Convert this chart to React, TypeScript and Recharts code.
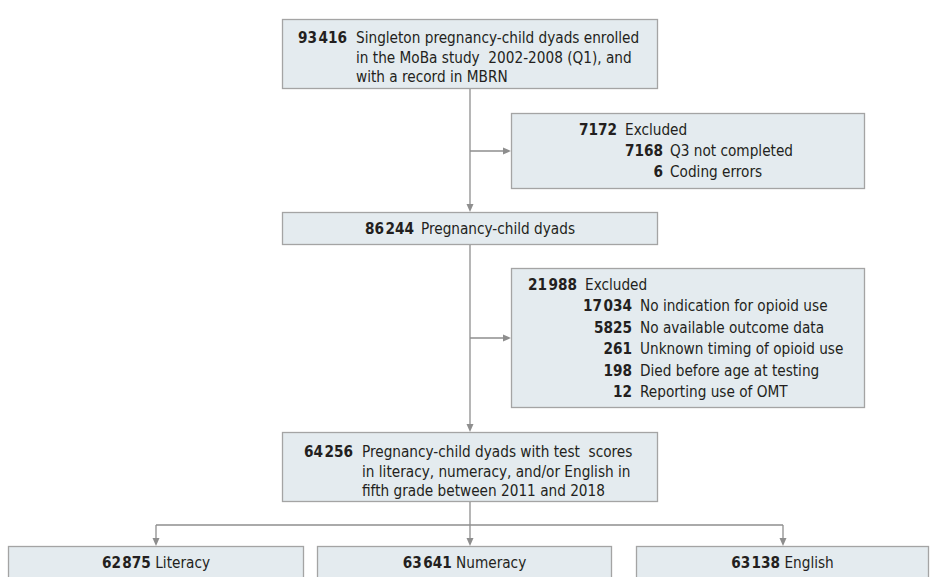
import React from 'react';
import { ComposedChart, XAxis, YAxis, ReferenceArea, ReferenceLine } from 'recharts';

const W = 935;
const H = 577;
const FONT = '"DejaVu Sans Condensed", "Liberation Sans Narrow", "Open Sans", sans-serif';
const BOX_FILL = '#e4ebef';
const BOX_STROKE = '#a4a4a4';
const LINE = '#8e8e8e';
const INK = '#231f20';

// flow steps
const STEP_COUNTS = [93416, 86244, 64256];
const STEP_TEXT = [
  ['Singleton pregnancy-child dyads enrolled', 'in the MoBa study  2002-2008 (Q1), and', 'with a record in MBRN'],
  ['Pregnancy-child dyads'],
  ['Pregnancy-child dyads with test  scores', 'in literacy, numeracy, and/or English in', 'fifth grade between 2011 and 2018'],
];

// exclusions
const EXCLUDED_TOTALS = [7172, 21988];
const EXCLUDED_COUNTS = [
  [7168, 6],
  [17034, 5825, 261, 198, 12],
];
const EXCLUDED_REASONS = [
  ['Q3 not completed', 'Coding errors'],
  ['No indication for opioid use', 'No available outcome data', 'Unknown timing of opioid use', 'Died before age at testing', 'Reporting use of OMT'],
];

// outcomes
const OUTCOMES = ['Literacy', 'Numeracy', 'English'];
const OUTCOME_COUNTS = [62875, 63641, 63138];

// layout (chart units == pixels)
const STEP_BOXES = [
  { x1: 282, x2: 658, y1: 19, y2: 89, numRight: 65, textLeft: 74, base: 24, gap: 19.5 },
  { x1: 282, x2: 658, y1: 212, y2: 245, numRight: 132, textLeft: 139, base: 22, gap: 19.5 },
  { x1: 282, x2: 658, y1: 432, y2: 502, numRight: 71, textLeft: 80, base: 25, gap: 19.5 },
];
const EXCL_BOXES = [
  { x1: 511, x2: 865, y1: 113, y2: 189, totRight: 106, totLeft: 114, subRight: 152, subLeft: 159, base: 22, gap: 21 },
  { x1: 511, x2: 865, y1: 268, y2: 408, totRight: 66, totLeft: 74, subRight: 121, subLeft: 129, base: 22, gap: 21.4 },
];
const OUTCOME_BOXES = [
  { x1: 8, x2: 304 },
  { x1: 317, x2: 612 },
  { x1: 636, x2: 929 },
];
const OUTCOME_TOP = 546;
const CONNECTORS = [
  { from: [470, 89], to: [470, 212], arrow: true },
  { from: [470, 151], to: [511, 151], arrow: true },
  { from: [470, 245], to: [470, 432], arrow: true },
  { from: [470, 338], to: [511, 338], arrow: true },
  { from: [470, 502], to: [470, OUTCOME_TOP], arrow: true },
  { from: [156, 525], to: [783, 525], arrow: false },
  { from: [156, 525], to: [156, OUTCOME_TOP], arrow: true },
  { from: [783, 525], to: [783, OUTCOME_TOP], arrow: true },
];

const fmt = (n: number) => {
  const s = String(n);
  return n >= 10000 ? `${s.slice(0, s.length - 3)}\u200a${s.slice(-3)}` : s;
};

const textStyle = { fontFamily: FONT, fontSize: 15.2, fill: INK };

const Box = ({ x, y, width, height, children }: any) => (
  <g>
    <rect x={x + 0.5} y={y + 0.5} width={width - 1} height={height - 1} fill={BOX_FILL} stroke={BOX_STROKE} strokeWidth={1.3} />
    {children}
  </g>
);

const stepShape = (i: number) => (p: any) => {
  const b = STEP_BOXES[i];
  return (
    <Box {...p}>
      <text x={p.x + b.numRight} y={p.y + b.base} textAnchor="end" fontWeight="bold" style={textStyle}>
        {fmt(STEP_COUNTS[i])}
      </text>
      {STEP_TEXT[i].map((line, k) => (
        <text key={k} x={p.x + b.textLeft} y={p.y + b.base + k * b.gap} style={{ ...textStyle, whiteSpace: 'pre' }}>
          {line}
        </text>
      ))}
    </Box>
  );
};

const exclShape = (i: number) => (p: any) => {
  const b = EXCL_BOXES[i];
  return (
    <Box {...p}>
      <text x={p.x + b.totRight} y={p.y + b.base} textAnchor="end" fontWeight="bold" style={textStyle}>
        {fmt(EXCLUDED_TOTALS[i])}
      </text>
      <text x={p.x + b.totLeft} y={p.y + b.base} style={textStyle}>Excluded</text>
      {EXCLUDED_COUNTS[i].map((c, k) => (
        <g key={k}>
          <text x={p.x + b.subRight} y={p.y + b.base + (k + 1) * b.gap} textAnchor="end" fontWeight="bold" style={textStyle}>
            {fmt(c)}
          </text>
          <text x={p.x + b.subLeft} y={p.y + b.base + (k + 1) * b.gap} style={textStyle}>
            {EXCLUDED_REASONS[i][k]}
          </text>
        </g>
      ))}
    </Box>
  );
};

const outcomeShape = (i: number) => (p: any) => (
  <Box {...p}>
    <text x={p.x + p.width / 2} y={p.y + 22} textAnchor="middle" style={textStyle}>
      <tspan fontWeight="bold">{fmt(OUTCOME_COUNTS[i])}</tspan>
      <tspan> {OUTCOMES[i]}</tspan>
    </text>
  </Box>
);

const connectorShape = (arrow: boolean) => (p: any) => {
  const { x1, y1, x2, y2 } = p;
  const len = Math.hypot(x2 - x1, y2 - y1) || 1;
  const ux = (x2 - x1) / len;
  const uy = (y2 - y1) / len;
  const ah = 8;
  const aw = 3.5;
  const bx = x2 - ux * ah;
  const by = y2 - uy * ah;
  return (
    <g>
      <line x1={x1} y1={y1} x2={arrow ? bx : x2} y2={arrow ? by : y2} stroke={LINE} strokeWidth={1.3} />
      {arrow && (
        <polygon
          points={`${x2},${y2} ${bx - uy * aw},${by + ux * aw} ${bx + uy * aw},${by - ux * aw}`}
          fill={LINE}
        />
      )}
    </g>
  );
};

export default function App() {
  return (
    <div style={{ position: 'absolute', left: 0, top: 0, background: '#fff' }}>
      <ComposedChart width={W} height={H} data={[]} margin={{ top: 0, right: 0, bottom: 0, left: 0 }}>
        <XAxis type="number" dataKey="x" domain={[0, W]} allowDataOverflow hide />
        <YAxis type="number" dataKey="y" domain={[0, H]} allowDataOverflow reversed hide />
        {CONNECTORS.map((c, i) => (
          <ReferenceLine
            key={`c${i}`}
            segment={[{ x: c.from[0], y: c.from[1] }, { x: c.to[0], y: c.to[1] }]}
            ifOverflow="visible"
            shape={connectorShape(c.arrow)}
          />
        ))}
        {STEP_BOXES.map((b, i) => (
          <ReferenceArea key={`s${i}`} x1={b.x1} x2={b.x2} y1={b.y1} y2={b.y2} ifOverflow="visible" shape={stepShape(i)} />
        ))}
        {EXCL_BOXES.map((b, i) => (
          <ReferenceArea key={`e${i}`} x1={b.x1} x2={b.x2} y1={b.y1} y2={b.y2} ifOverflow="visible" shape={exclShape(i)} />
        ))}
        {OUTCOME_BOXES.map((b, i) => (
          <ReferenceArea key={`o${i}`} x1={b.x1} x2={b.x2} y1={OUTCOME_TOP} y2={H + 20} ifOverflow="visible" shape={outcomeShape(i)} />
        ))}
      </ComposedChart>
    </div>
  );
}
